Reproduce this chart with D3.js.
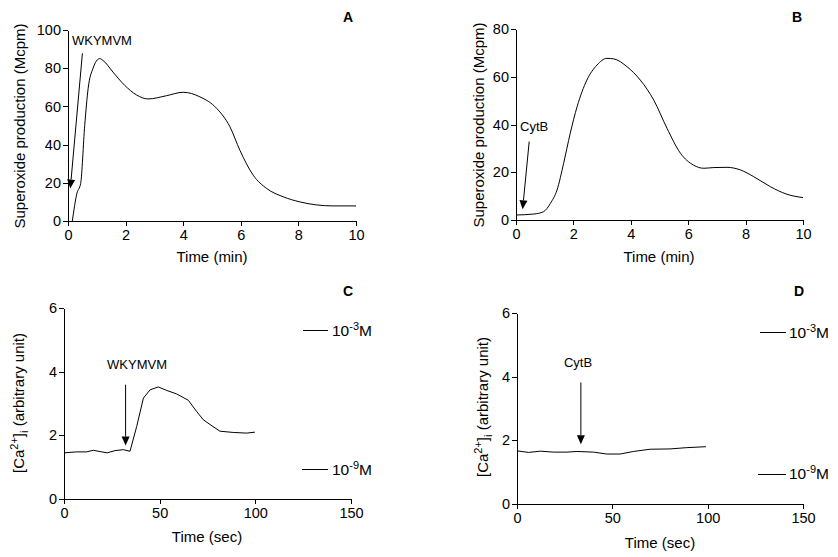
<!DOCTYPE html>
<html><head><meta charset="utf-8">
<script src="https://cdn.jsdelivr.net/npm/d3@7"></script>
<style>
body{margin:0;background:#fff;}
text{font-family:"Liberation Sans",Arial,sans-serif;fill:#000;}
</style></head>
<body><svg id="c" width="838" height="557"></svg>
<script>
// Panel A: WKYMVM superoxide (time min, Mcpm)
const aTime = [0.15,0.31,0.44,0.58,0.7,0.87,1.1,1.22,1.56,1.97,2.38,2.78,3.42,4.0,4.58,5.16,5.62,5.97,6.43,6.9,7.47,8.05,9.2,10];
const aValue = [0,14.5,19.7,50,69.5,80,85,84,78,71,66,63.9,65.6,67.4,65,59,49.4,37,24,17,12.7,10,7.9,7.9];
// Panel B: CytB superoxide
const bTime = [0,0.62,0.96,1.2,1.43,1.66,1.89,2.13,2.47,2.82,3.17,3.4,3.87,4.33,4.8,5.26,5.73,6.19,6.54,6.89,7.35,7.82,8.28,8.86,9.44,10];
const bValue = [2.1,2.5,3.5,7,12.6,23.8,36.4,47.6,58.7,65,67.8,67.6,64.3,58.7,50.3,38.5,28,23,21.7,22,22.1,21,18.2,14,10.8,9.4];
// Panel C: WKYMVM [Ca2+]i (time sec)
const cTime = [0,6.6,11.8,15.3,18.8,22.6,26.7,31,34.5,38,41.5,45,49.3,53.7,58.9,65,69.3,72.8,76.3,81.5,88.5,95.5,99.8];
const cValue = [1.45,1.48,1.48,1.53,1.49,1.45,1.52,1.55,1.5,2.28,3.17,3.43,3.52,3.41,3.3,3.1,2.75,2.49,2.34,2.13,2.09,2.07,2.1];
// Panel D: CytB [Ca2+]i
const dTime = [0,6.1,12.2,19.2,26.2,31.4,40.1,47.1,54.1,61,69.8,80.3,89,99.1];
const dValue = [1.67,1.62,1.66,1.63,1.63,1.65,1.63,1.57,1.57,1.65,1.72,1.73,1.77,1.8];

const ticksMin = [0,2,4,6,8,10];
const ticksSec = [0,50,100,150];
const ticksA = [0,20,40,60,80,100];
const ticksB = [0,20,40,60,80];
const ticksCa = [0,2,4,6];

const svg = d3.select("#c");
const fmt = d3.format("d");

function panel(o){
  const g = svg.append("g");
  const x = d3.scaleLinear().domain(o.xd).range([o.x0,o.x1]);
  const y = d3.scaleLinear().domain(o.yd).range([o.y0,o.y1]);
  const xa = g.append("g").attr("transform",`translate(0,${o.y0})`)
    .call(d3.axisBottom(x).tickValues(o.xt).tickFormat(fmt).tickSize(5).tickSizeOuter(0).tickPadding(4));
  const ya = g.append("g").attr("transform",`translate(${o.x0},0)`)
    .call(d3.axisLeft(y).tickValues(o.yt).tickFormat(fmt).tickSize(5).tickSizeOuter(0).tickPadding(2));
  [xa,ya].forEach(a=>{
    a.selectAll("path,line").attr("stroke","#000").attr("shape-rendering","crispEdges");
    a.selectAll("text").attr("font-size",14.5).attr("font-family","Liberation Sans, Arial, sans-serif").attr("fill","#000");
  });
  const line = d3.line().x((d,i)=>x(o.t[i])).y((d,i)=>y(o.v[i])).curve(o.curve);
  g.append("path").datum(o.v).attr("d",line).attr("fill","none").attr("stroke","#000").attr("stroke-width",1);
  // x title
  g.append("text").attr("x",o.xtx).attr("y",o.xty).attr("text-anchor","middle").attr("font-size",15).text(o.xtitle);
  // y title
  const yt = g.append("text").attr("transform",`translate(${o.ytx},${o.yty}) rotate(-90)`).attr("text-anchor","middle").attr("font-size",15);
  o.ytitle(yt);
  // letter
  g.append("text").attr("x",o.lx).attr("y",o.ly).attr("text-anchor","middle").attr("font-size",14).style("font-weight","bold").text(o.letter);
  // annotation arrow
  const a = o.arrow;
  const sx=x(a.from[0]), sy=y(a.from[1]), ex=x(a.to[0]), ey=y(a.to[1]);
  const ang = Math.atan2(ey-sy, ex-sx);
  const hl=9, hw=4;
  const bx = ex - hl*Math.cos(ang), by = ey - hl*Math.sin(ang);
  g.append("line").attr("x1",sx).attr("y1",sy).attr("x2",bx).attr("y2",by).attr("stroke","#000").attr("stroke-width",1);
  g.append("path").attr("d",`M${ex},${ey}L${bx+hw*Math.sin(ang)},${by-hw*Math.cos(ang)}L${bx-hw*Math.sin(ang)},${by+hw*Math.cos(ang)}Z`).attr("fill","#000");
  g.append("text").attr("x",a.tx).attr("y",a.ty).attr("text-anchor",a.anchor).attr("font-size",13).text(a.label);
  // legend
  if(o.legend){
    o.legend.forEach(L=>{
      g.append("line").attr("x1",L.x1).attr("x2",L.x2).attr("y1",L.y).attr("y2",L.y).attr("stroke","#000").attr("stroke-width",1).attr("shape-rendering","crispEdges");
      const t = g.append("text").attr("x",L.tx).attr("y",L.ty).attr("font-size",15.5);
      t.append("tspan").text("10");
      t.append("tspan").attr("dy",-6).attr("font-size",11).text(L.exp);
      t.append("tspan").attr("dy",6).text("M");
    });
  }
}

function supTitle(t){ t.text("Superoxide production (Mcpm)"); }
function caTitle(t){
  t.append("tspan").text("[Ca");
  t.append("tspan").attr("dy",-6).attr("font-size",11).text("2+");
  t.append("tspan").attr("dy",6).text("]");
  t.append("tspan").attr("dy",4).attr("font-size",11).text("i");
  t.append("tspan").attr("dy",-4).text(" (arbitrary unit)");
}

panel({xd:[0,10],yd:[0,100],x0:68,x1:356,y0:221,y1:30,xt:ticksMin,yt:ticksA,t:aTime,v:aValue,curve:d3.curveMonotoneX,
  xtitle:"Time (min)",xtx:212,xty:262,ytitle:supTitle,ytx:25,yty:126,letter:"A",lx:348,ly:22,
  arrow:{from:[0.5,87.8],to:[0.08,17],label:"WKYMVM",tx:72,ty:45,anchor:"start"}});
panel({xd:[0,10],yd:[0,80],x0:516,x1:803,y0:220,y1:29.3,xt:ticksMin,yt:ticksB,t:bTime,v:bValue,curve:d3.curveMonotoneX,
  xtitle:"Time (min)",xtx:659,xty:262,ytitle:supTitle,ytx:484,yty:125,letter:"B",lx:797,ly:22,
  arrow:{from:[0.46,32.9],to:[0.23,4.5],label:"CytB",tx:520,ty:131,anchor:"start"}});
panel({xd:[0,150],yd:[0,6],x0:64,x1:351,y0:499,y1:308,xt:ticksSec,yt:ticksCa,t:cTime,v:cValue,curve:d3.curveLinear,
  xtitle:"Time (sec)",xtx:207,xty:542,ytitle:caTitle,ytx:24,yty:403,letter:"C",lx:348,ly:296,
  arrow:{from:[32.2,3.59],to:[32.2,1.68],label:"WKYMVM",tx:137,ty:369,anchor:"middle"},
  legend:[{x1:303,x2:328,y:330,tx:332,ty:336,exp:"-3"},{x1:302,x2:328,y:469,tx:332,ty:475,exp:"-9"}]});
panel({xd:[0,150],yd:[0,6],x0:517,x1:803,y0:504,y1:313,xt:ticksSec,yt:ticksCa,t:dTime,v:dValue,curve:d3.curveLinear,
  xtitle:"Time (sec)",xtx:660,xty:548,ytitle:caTitle,ytx:488,yty:407,letter:"D",lx:799,ly:296,
  arrow:{from:[33.5,3.82],to:[33.5,1.88],label:"CytB",tx:578,ty:367,anchor:"middle"},
  legend:[{x1:760,x2:786,y:332,tx:789,ty:338,exp:"-3"},{x1:758,x2:786,y:474,tx:789,ty:479,exp:"-9"}]});
</script></body></html>
